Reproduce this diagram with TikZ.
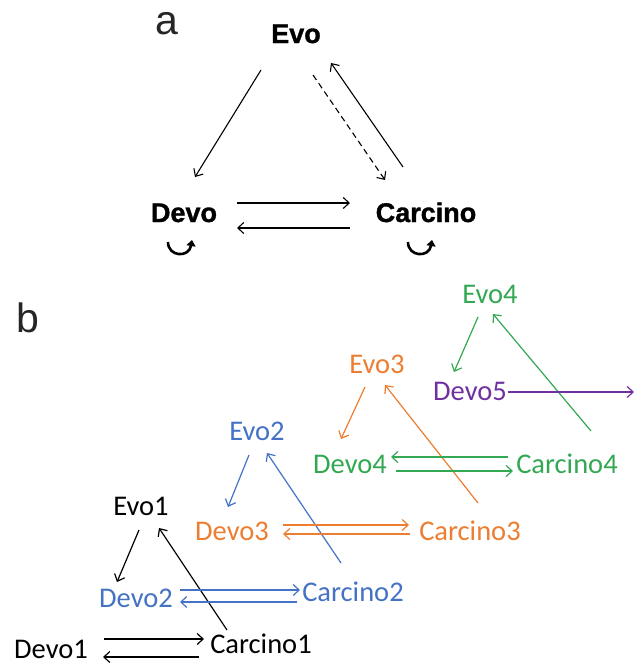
\documentclass[tikz,border=0pt]{standalone}
\usepackage{fontspec}
\setmainfont{Carlito}
\newfontfamily\arialfont{Liberation Sans}
\newfontfamily\arialbold[FakeBold=1.2]{Liberation Sans Bold}
\usetikzlibrary{arrows.meta}
\definecolor{cblue}{HTML}{4472C4}
\definecolor{corange}{HTML}{ED7D31}
\definecolor{cgreen}{HTML}{33A852}
\definecolor{cpurple}{HTML}{7030A0}
\begin{document}
\begin{tikzpicture}[x=1pt,y=-1pt,
  lab/.style={font=\arialfont\fontsize{41}{41}\selectfont, text=black!85, inner sep=0, anchor=base},
  anode/.style={font=\arialbold\fontsize{27}{27}\selectfont, inner sep=0, anchor=base},
  bnode/.style={font=\fontsize{28.5}{28.5}\selectfont, inner sep=0, anchor=base},
  aarr/.style={-{Straight Barb[length=6pt,width=11pt]}, line width=1.1pt},
  barr/.style={-{Straight Barb[length=6pt,width=11pt]}, line width=1.2pt},
  loopy/.style={-{Triangle[length=6pt,width=9pt]}, line width=2.6pt}]
\useasboundingbox (0,0) rectangle (643,664);
% labels
\node[lab] (la) at (167,34) {a};
\node[lab] (lb) at (28,332) {b};
% part a
\node[anode] (evo) at (296,43) {Evo};
\node[anode] (devo) at (184,222) {Devo};
\node[anode] (carc) at (426,222) {Carcino};
\draw[aarr] ([shift={(-35,27)}]evo.base) -- ([shift={(11,-45)}]devo.base);
\draw[aarr,dash pattern=on 6pt off 4pt] ([shift={(17,32)}]evo.base) -- ([shift={(-41,-42)}]carc.base);
\draw[aarr] ([shift={(-23,-55)}]carc.base) -- ([shift={(35,20)}]evo.base);
\draw[aarr] ([shift={(53,-19)}]devo.base) -- ([shift={(-76,-19)}]carc.base);
\draw[aarr] ([shift={(-76,6)}]carc.base) -- ([shift={(53,6)}]devo.base);
\draw[loopy] ([shift={(-16,20)}]devo.base) .. controls ([shift={(-16,35)}]devo.base) and ([shift={(5,36)}]devo.base) .. ([shift={(8,18)}]devo.base);
\draw[loopy] ([shift={(-18,20)}]carc.base) .. controls ([shift={(-18,35)}]carc.base) and ([shift={(3,36)}]carc.base) .. ([shift={(6,18)}]carc.base);
% part b nodes
\node[bnode] (evo1) at (141,515) {Evo1};
\node[bnode] (devo1) at (51,658) {Devo1};
\node[bnode] (carc1) at (261,653) {Carcino1};
\node[bnode,text=cblue] (devo2) at (136,607) {Devo2};
\node[bnode,text=cblue] (carc2) at (353,601) {Carcino2};
\node[bnode,text=cblue] (evo2) at (257,440) {Evo2};
\node[bnode,text=corange] (devo3) at (232,540) {Devo3};
\node[bnode,text=corange] (carc3) at (470,540) {Carcino3};
\node[bnode,text=corange] (evo3) at (377,373) {Evo3};
\node[bnode,text=cgreen] (devo4) at (350,473) {Devo4};
\node[bnode,text=cgreen] (carc4) at (567,473) {Carcino4};
\node[bnode,text=cgreen] (evo4) at (490,303) {Evo4};
\node[bnode,text=cpurple] (devo5) at (470,400) {Devo5};
\coordinate (d5end) at (634,392);
% black
\draw[barr] ([shift={(-2,15)}]evo1.base) -- ([shift={(-19,-25)}]devo2.base);
\draw[barr] ([shift={(-34,-23)}]carc1.base) -- ([shift={(18,13)}]evo1.base);
\draw[barr] ([shift={(53,-19)}]devo1.base) -- ([shift={(-57,-14)}]carc1.base);
\draw[barr] ([shift={(-62,4)}]carc1.base) -- ([shift={(52,-1)}]devo1.base);
% blue
\draw[barr,cblue] ([shift={(44,-17)}]devo2.base) -- ([shift={(-53,-11)}]carc2.base);
\draw[barr,cblue] ([shift={(-56,1)}]carc2.base) -- ([shift={(44,-5)}]devo2.base);
\draw[barr,cblue] ([shift={(-8,15)}]evo2.base) -- ([shift={(-4,-33)}]devo3.base);
\draw[barr,cblue] ([shift={(-12,-38)}]carc2.base) -- ([shift={(10,13)}]evo2.base);
% orange
\draw[barr,corange] ([shift={(51,-15)}]devo3.base) -- ([shift={(-61,-15)}]carc3.base);
\draw[barr,corange] ([shift={(-60,-6)}]carc3.base) -- ([shift={(51,-6)}]devo3.base);
\draw[barr,corange] ([shift={(-12,14)}]evo3.base) -- ([shift={(-9,-34)}]devo4.base);
\draw[barr,corange] ([shift={(8,-37)}]carc3.base) -- ([shift={(8,12)}]evo3.base);
% green
\draw[barr,cgreen] ([shift={(-12,14)}]evo4.base) -- ([shift={(-16,-28)}]devo5.base);
\draw[barr,cgreen] ([shift={(24,-42)}]carc4.base) -- ([shift={(3,11)}]evo4.base);
\draw[barr,cgreen] ([shift={(-59,-16)}]carc4.base) -- ([shift={(41,-16)}]devo4.base);
\draw[barr,cgreen] ([shift={(46,-2)}]devo4.base) -- ([shift={(-54,-2)}]carc4.base);
% purple
\draw[barr,cpurple] ([shift={(38,-8)}]devo5.base) -- (d5end);
\end{tikzpicture}
\end{document}
